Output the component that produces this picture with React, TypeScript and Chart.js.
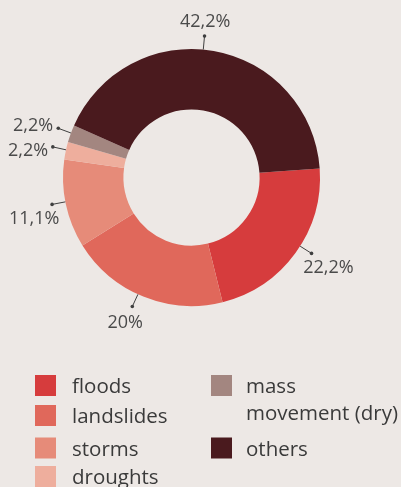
import { useEffect, useRef } from 'react';
import { Chart, registerables } from 'chart.js';

Chart.register(...registerables);

// ---- data ----
const categories = ['floods', 'landslides', 'storms', 'droughts', 'mass movement (dry)', 'others'];
const shares = [22.2, 20, 11.1, 2.2, 2.2, 42.2];
const shareLabels = ['22,2%', '20%', '11,1%', '2,2%', '2,2%', '42,2%'];
const legendLines = [['floods'], ['landslides'], ['storms'], ['droughts'], ['mass', 'movement (dry)'], ['others']];

// ---- style ----
const BG = '#ede8e5';
const COLORS = ['#d63c3d', '#e0685b', '#e68b79', '#eeae9d', '#a38680', '#4a1a1e'];
const TEXT = '#4a4a4a';
const FONT = '"Open Sans", sans-serif';
// small angular nudges (degrees) of leader lines / label texts, like the reference's label placement
const leaderNudge = [-3.7, 2.6, 1, 0.4, 0.3, -4.7];
const textNudge = [-3, 2.7, -2.5, -2.4, -1.5, -5];
const textRadiusExtra = [0, 0, -3, 0, 2, 0];
// legend layout: [squareX, textX, squareTop]
const legendPos = [
  [35, 72, 375],
  [35, 72, 405],
  [35, 72, 437.5],
  [35, 72, 466],
  [211, 246, 375],
  [211, 246, 437.5],
];

const sliceLabels = {
  id: 'sliceLabels',
  afterDatasetsDraw(chart: any) {
    const meta = chart.getDatasetMeta(0);
    const ctx = chart.ctx as CanvasRenderingContext2D;
    ctx.save();
    meta.data.forEach((arc: any, i: number) => {
      const { x, y, startAngle, endAngle, outerRadius } = arc.getProps(
        ['x', 'y', 'startAngle', 'endAngle', 'outerRadius'],
        true
      );
      const mid = (startAngle + endAngle) / 2;
      const a = mid + (leaderNudge[i] * Math.PI) / 180;
      const c = Math.cos(a), s = Math.sin(a);
      const r2 = outerRadius + 13.5;
      ctx.strokeStyle = '#3f3f3f';
      ctx.fillStyle = '#3f3f3f';
      ctx.lineWidth = 1;
      ctx.beginPath();
      ctx.moveTo(x + c * outerRadius, y + s * outerRadius);
      ctx.lineTo(x + c * r2, y + s * r2);
      ctx.stroke();
      ctx.beginPath();
      ctx.arc(x + c * r2, y + s * r2, 1.8, 0, Math.PI * 2);
      ctx.fill();

      const t = mid + (textNudge[i] * Math.PI) / 180;
      const tc = Math.cos(t), ts = Math.sin(t);
      const rt = outerRadius + 28.5 + 9 * tc * tc + textRadiusExtra[i];
      ctx.fillStyle = TEXT;
      ctx.font = `18px ${FONT}`;
      ctx.textAlign = 'center';
      ctx.textBaseline = 'middle';
      ctx.fillText(shareLabels[i], x + tc * rt, y + ts * rt + 1);
    });
    ctx.restore();
  },
};

const customLegend = {
  id: 'customLegend',
  afterDraw(chart: any) {
    const ctx = chart.ctx as CanvasRenderingContext2D;
    ctx.save();
    categories.forEach((_, i) => {
      const [sx, tx, top] = legendPos[i];
      ctx.fillStyle = COLORS[i];
      ctx.fillRect(sx, top, 21, 21);
      ctx.fillStyle = '#3a3a3a';
      ctx.font = `20.5px ${FONT}`;
      ctx.textAlign = 'left';
      ctx.textBaseline = 'alphabetic';
      legendLines[i].forEach((line, k) => {
        ctx.fillText(line, tx, top + 18.3 + k * 27);
      });
    });
    ctx.restore();
  },
};

export default function App() {
  const ref = useRef<HTMLCanvasElement | null>(null);
  useEffect(() => {
    if (!ref.current) return;
    const chart = new Chart(ref.current, {
      type: 'doughnut',
      data: {
        labels: categories,
        datasets: [
          {
            data: shares,
            backgroundColor: COLORS,
            borderWidth: 0,
            hoverOffset: 0,
            offset: 0,
          },
        ],
      },
      options: {
        animation: false,
        responsive: false,
        devicePixelRatio: 1,
        cutout: '53%',
        rotation: 86,
        layout: { padding: { left: 63, top: 49, right: 81, bottom: 181 } },
        plugins: {
          legend: { display: false },
          tooltip: { enabled: false },
        },
      },
      plugins: [sliceLabels, customLegend],
    });
    return () => chart.destroy();
  }, []);
  return (
    <div style={{ position: 'fixed', left: 0, top: 0, width: 401, height: 487, background: BG }}>
      <canvas ref={ref} width={401} height={487} style={{ display: 'block', width: 401, height: 487 }} />
    </div>
  );
}
